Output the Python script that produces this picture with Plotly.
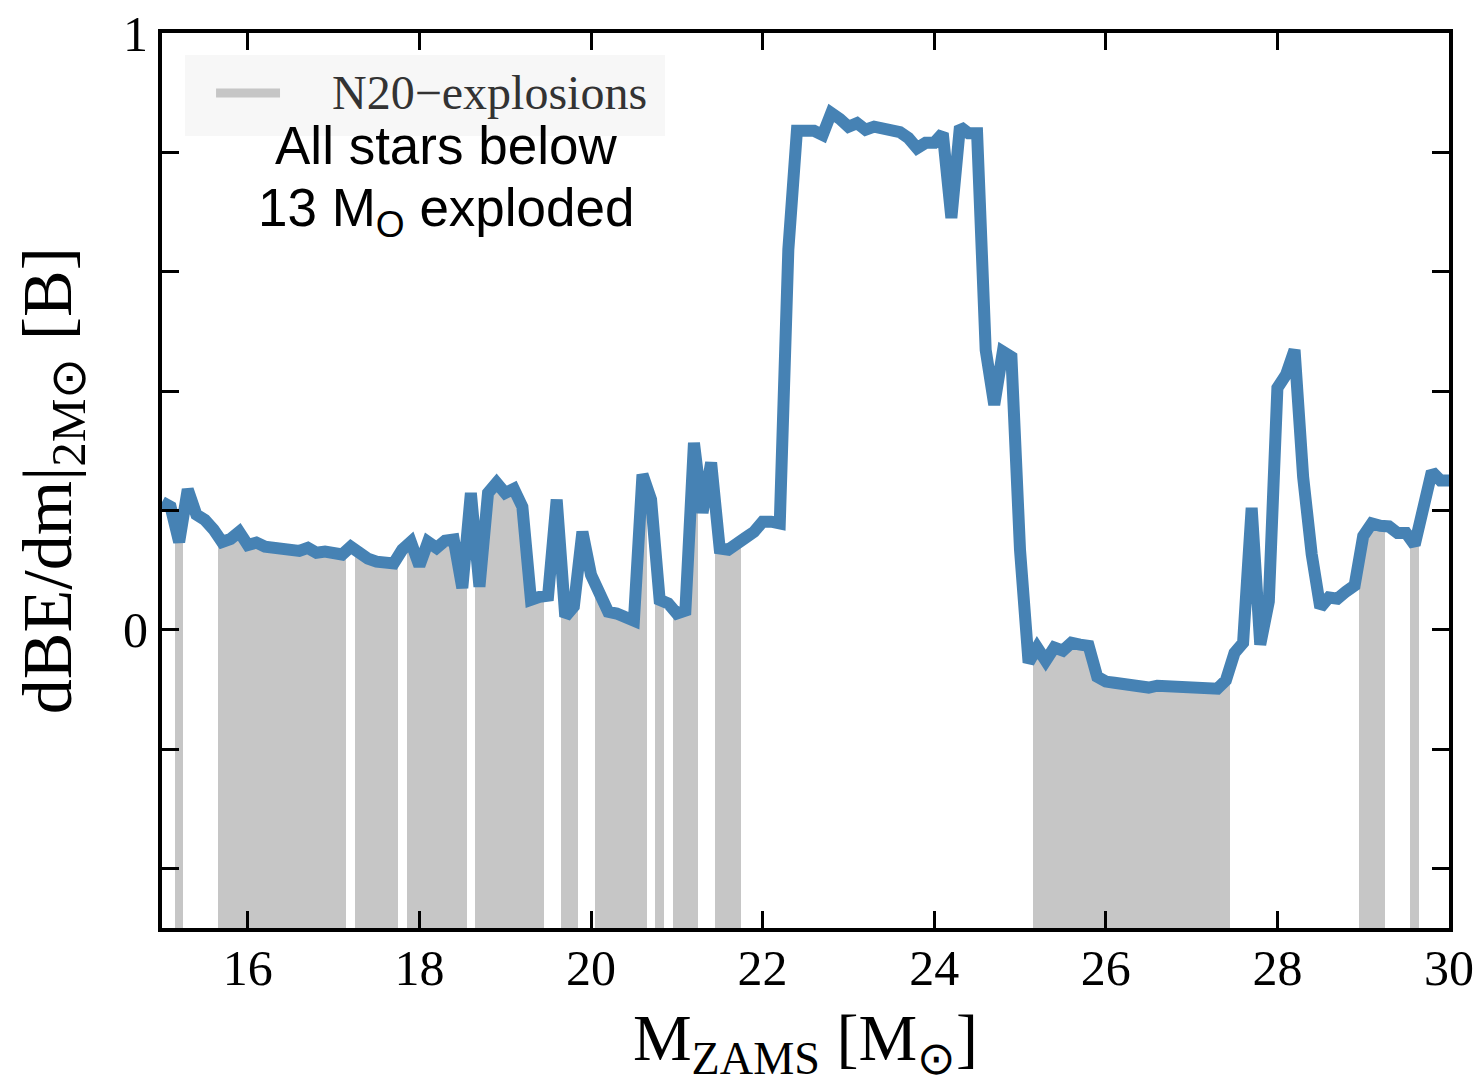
import plotly.graph_objects as go

# Progenitor ZAMS masses [Msun] and binding-energy gradient at 2 Msun [B/Msun]
mass = [
    15.0, 15.1, 15.2, 15.3, 15.4, 15.5, 15.6, 15.7, 15.8, 15.9,
    16.0, 16.1, 16.2, 16.3, 16.4, 16.5, 16.6, 16.7, 16.8, 16.9,
    17.0, 17.1, 17.2, 17.3, 17.4, 17.5, 17.6, 17.7, 17.8, 17.9,
    18.0, 18.1, 18.2, 18.3, 18.4, 18.5, 18.6, 18.7, 18.8, 18.9,
    19.0, 19.1, 19.2, 19.3, 19.4, 19.5, 19.6, 19.7, 19.8, 19.9,
    20.0, 20.1, 20.2, 20.3, 20.4, 20.5, 20.6, 20.7, 20.8, 20.9,
    21.0, 21.1, 21.2, 21.3, 21.4, 21.5, 21.6, 21.7, 21.8, 21.9,
    22.0, 22.1, 22.2, 22.3, 22.4, 22.5, 22.6, 22.7, 22.8, 22.9,
    23.0, 23.1, 23.2, 23.3, 23.4, 23.5, 23.6, 23.7, 23.8, 23.9,
    24.0, 24.1, 24.2, 24.3, 24.4, 24.5, 24.6, 24.7, 24.8, 24.9,
    25.0, 25.1, 25.2, 25.3, 25.4, 25.5, 25.6, 25.7, 25.8, 25.9,
    26.0, 26.1, 26.2, 26.3, 26.4, 26.5, 26.6, 26.7, 26.8, 26.9,
    27.0, 27.1, 27.2, 27.3, 27.4, 27.5, 27.6, 27.7, 27.8, 27.9,
    28.0, 28.1, 28.2, 28.3, 28.4, 28.5, 28.6, 28.7, 28.8, 28.9,
    29.0, 29.1, 29.2, 29.3, 29.4, 29.5, 29.6, 29.7, 29.8, 29.9,
    30.0,
]

dbe_dm = [
    0.214, 0.206, 0.147, 0.235, 0.193, 0.184, 0.168, 0.147, 0.152, 0.164,
    0.142, 0.146, 0.139, 0.137, 0.137, 0.136, 0.132, 0.137, 0.129, 0.131,
    0.129, 0.126, 0.139, 0.126, 0.119, 0.114, 0.112, 0.111, 0.134, 0.147,
    0.107, 0.147, 0.137, 0.149, 0.151, 0.070, 0.229, 0.072, 0.229, 0.246,
    0.229, 0.236, 0.206, 0.050, 0.055, 0.057, 0.218, 0.022, 0.039, 0.164,
    0.092, 0.059, 0.030, 0.027, 0.020, 0.015, 0.260, 0.218, 0.050, 0.044,
    0.027, 0.032, 0.313, 0.196, 0.280, 0.136, 0.134, 0.147, 0.154, 0.164,
    0.181, 0.181, 0.178, 0.637, 0.836, 0.836, 0.836, 0.829, 0.866, 0.856,
    0.843, 0.849, 0.838, 0.843, 0.841, 0.839, 0.834, 0.824, 0.807, 0.816,
    0.816, 0.832, 0.690, 0.843, 0.832, 0.832, 0.469, 0.377, 0.466, 0.457,
    0.134, -0.055, -0.030, -0.052, -0.030, -0.035, -0.022, -0.025, -0.027, -0.079,
    -0.087, -0.089, -0.092, -0.095, -0.097, -0.097, -0.094, -0.095, -0.095, -0.094,
    -0.094, -0.097, -0.101, -0.099, -0.085, -0.039, -0.022, 0.204, -0.025, 0.047,
    0.405, 0.427, 0.469, 0.256, 0.126, 0.037, 0.054, 0.052, 0.064, 0.074,
    0.157, 0.178, 0.174, 0.173, 0.162, 0.162, 0.142, 0.204, 0.265, 0.250,
    0.250,
]

# Models that exploded with the N20 engine
exploded = [
    15.2,
    15.7, 15.8, 15.9, 16.0, 16.1, 16.2, 16.3, 16.4, 16.5, 16.6, 16.7, 16.8, 16.9, 17.0, 17.1,
    17.3, 17.4, 17.5, 17.6, 17.7,
    17.9, 18.0, 18.1, 18.2, 18.3, 18.4, 18.5,
    18.7, 18.8, 18.9, 19.0, 19.1, 19.2, 19.3, 19.4,
    19.7, 19.8,
    20.1, 20.2, 20.3, 20.4, 20.5, 20.6,
    20.8,
    21.0, 21.1, 21.2,
    21.5, 21.6, 21.7,
    25.2, 25.3, 25.4, 25.5, 25.6, 25.7, 25.8, 25.9, 26.0, 26.1, 26.2,
    26.3, 26.4, 26.5, 26.6, 26.7, 26.8, 26.9, 27.0, 27.1, 27.2, 27.3, 27.4,
    29.0, 29.1, 29.2,
    29.6,
]

x_ticks = [16, 18, 20, 22, 24, 26, 28, 30]
y_ticks = [-0.4, -0.2, 0.0, 0.2, 0.4, 0.6, 0.8, 1.0]
y_ticktext = ["", "", "0", "", "", "", "", "1"]
legend_label = "N20\u2212explosions"

Y_BOTTOM = -0.5
lookup = dict(zip(mass, dbe_dm))
expl_val = [lookup[m] for m in exploded]

SERIF = "Liberation Serif, Times New Roman, serif"
SANS = "Liberation Sans, Arial, sans-serif"
GRAY = "#c6c6c6"
BLUE = "#4682b4"

fig = go.Figure()

# gray columns from the bottom of the frame up to each exploding model
fig.add_trace(go.Bar(
    x=exploded,
    y=[v - Y_BOTTOM for v in expl_val],
    base=Y_BOTTOM,
    width=0.1,
    marker=dict(color=GRAY, line=dict(width=0)),
    showlegend=False,
    hoverinfo="skip",
))

fig.add_trace(go.Scatter(
    x=mass, y=dbe_dm, mode="lines",
    line=dict(color=BLUE, width=12),
    showlegend=False,
))

axis_common = dict(
    showline=True, linewidth=4, linecolor="black",
    mirror="ticks", ticks="inside", ticklen=17, tickwidth=3, tickcolor="black",
    showgrid=False, zeroline=False, automargin=False,
    tickfont=dict(family=SERIF, size=50, color="black"),
)

fig.update_layout(
    width=1482, height=1085,
    margin=dict(l=162, r=33, t=33, b=157),
    paper_bgcolor="white", plot_bgcolor="white",
    bargap=0,
    showlegend=False,
    xaxis=dict(
        range=[15, 30], tickvals=x_ticks, ticklabelstandoff=-7,
        title=dict(text="M<sub>ZAMS</sub> [M<sub>\u2299</sub>]",
                   font=dict(family=SERIF, size=66, color="black"), standoff=20),
        **axis_common,
    ),
    yaxis=dict(
        range=[Y_BOTTOM, 1.0], tickvals=y_ticks, ticktext=y_ticktext,
        title=dict(text="dBE/dm|<sub>2M\u2299</sub> [B]",
                   font=dict(family=SERIF, size=70, color="black"), standoff=30),
        **axis_common,
    ),
)

# legend box: light background, gray line sample and label
fig.add_shape(type="rect", xref="paper", yref="paper",
              x0=0.0179, x1=0.3908, y0=0.885, y1=0.9754,
              fillcolor="#f7f7f7", line=dict(width=0), layer="above")
fig.add_shape(type="line", xref="paper", yref="paper",
              x0=0.0420, x1=0.0917, y0=0.933, y1=0.933,
              line=dict(color=GRAY, width=9), layer="above")
fig.add_annotation(
    text=legend_label, xref="paper", yref="paper",
    x=0.1305, y=0.933, xanchor="left", yanchor="middle",
    showarrow=False, font=dict(family=SERIF, size=48, color="#333333"),
)

fig.add_annotation(
    text="All stars below", xref="paper", yref="paper",
    x=0.221, y=0.874, xanchor="center", yanchor="middle",
    showarrow=False, font=dict(family=SANS, size=53, color="black"),
)
fig.add_annotation(
    text="13 M<sub>O</sub> exploded", xref="paper", yref="paper",
    x=0.221, y=0.800, xanchor="center", yanchor="middle",
    showarrow=False, font=dict(family=SANS, size=53, color="black"),
)

fig.write_html("out.html")
